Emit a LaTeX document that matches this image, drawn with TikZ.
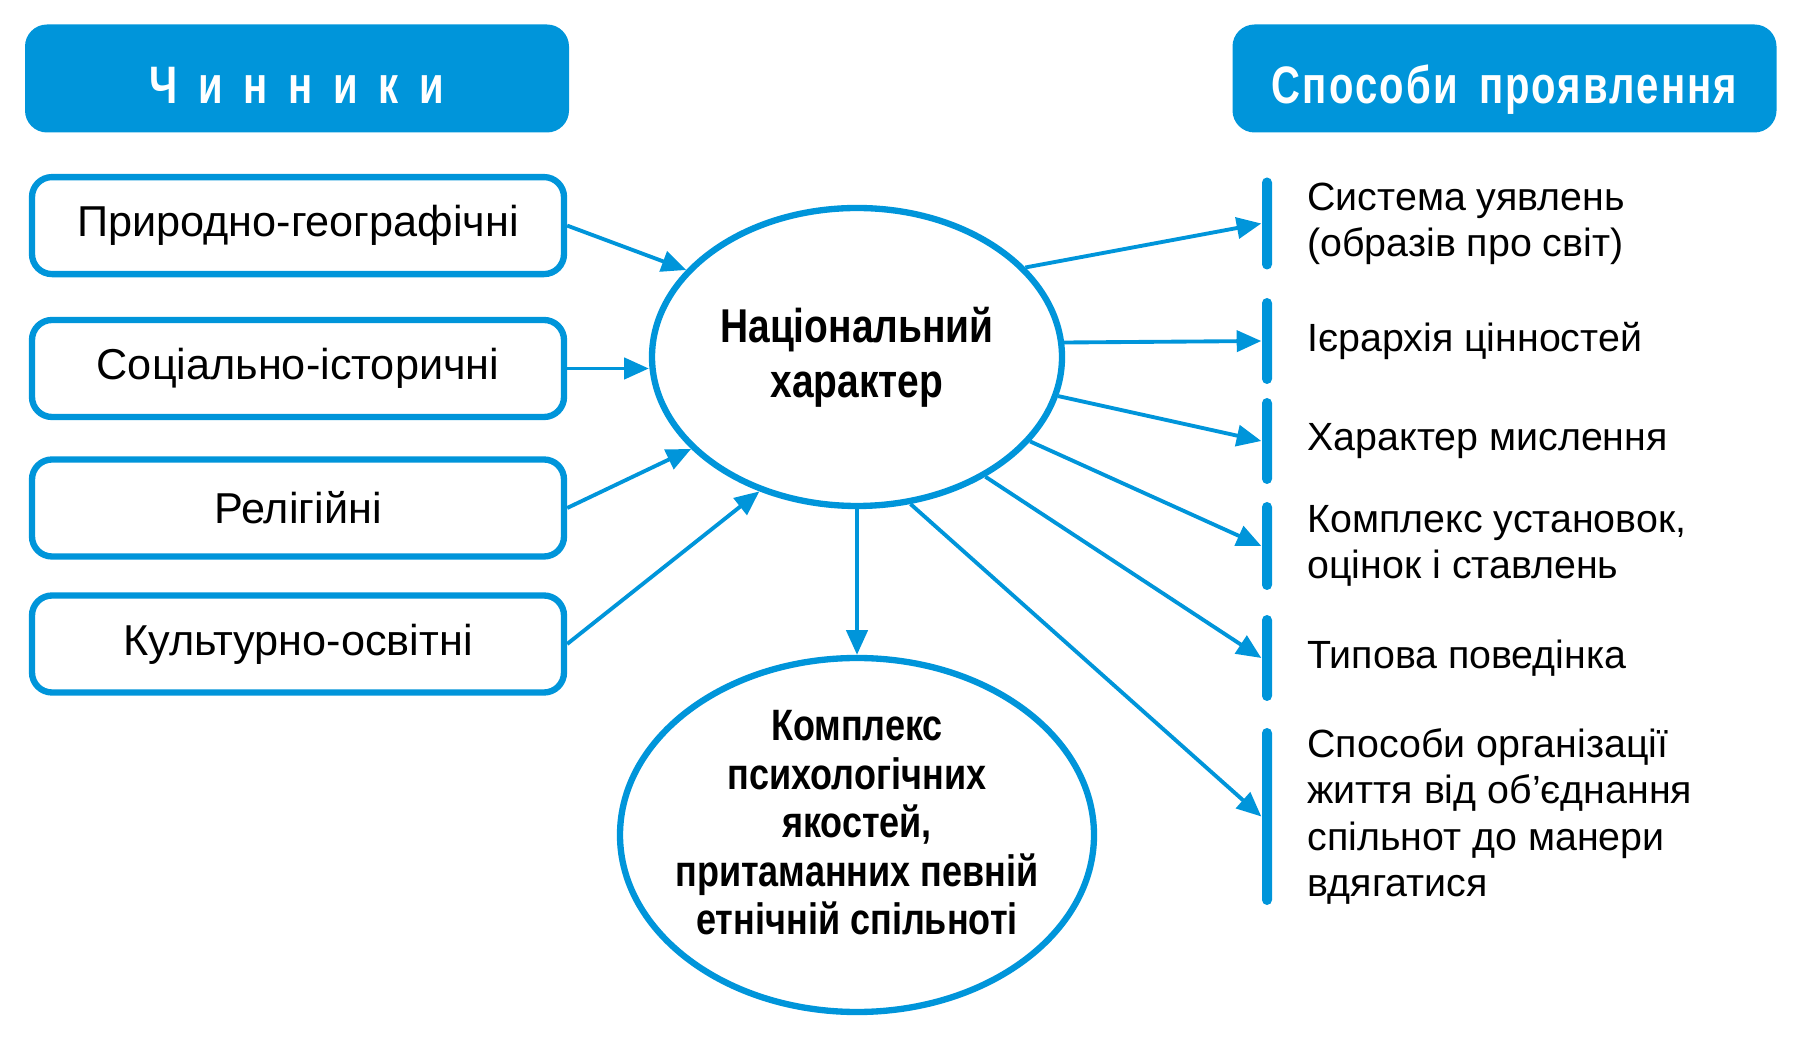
\documentclass[tikz,border=0pt]{standalone}
\usepackage{fontspec}
\setmainfont{Liberation Sans}
\newfontfamily\condfont{Liberation Sans}[FakeStretch=0.82]
\newfontfamily\headfont{Liberation Sans}[FakeStretch=0.76]
\usepackage{tikz}
\usetikzlibrary{arrows.meta,positioning,shapes.geometric}
\definecolor{chblue}{RGB}{0,149,218}

\begin{document}
\begin{tikzpicture}[
  header/.style={fill=chblue, rounded corners=0.22cm, minimum width=5.44cm, minimum height=1.08cm,
    text=white, text height=0.5cm, text depth=0pt, font=\headfont\bfseries\fontsize{15}{17}\selectfont},
  factor/.style={draw=chblue, line width=1.8pt, rounded corners=0.2cm, fill=white,
    minimum width=5.32cm, minimum height=0.97cm, font=\fontsize{12.3}{14}\selectfont},
  core/.style={ellipse, draw=chblue, line width=1.8pt, align=center, inner sep=0pt,
    font=\condfont\bfseries\fontsize{13.5}{15.6}\selectfont},
  sidebar/.style={fill=chblue, rounded corners=0.05cm, minimum width=0.1cm, inner sep=0pt},
  way/.style={right=0.34cm of #1, align=left, inner sep=0pt, font=\fontsize{11.2}{13.1}\selectfont},
  link/.style={draw=chblue, line width=1.1pt, -{Triangle[length=7pt,width=6pt]}}
]
\useasboundingbox (0,0) rectangle (17.96,-10.49);

\node[header] (hf) at (2.97,-0.785) {\addfontfeature{LetterSpace=18}Ч и н н и к и};
\node[header] (hw) at (15.045,-0.785) {\addfontfeature{LetterSpace=4}Способи\hspace{0.15em} проявлення};

\node[factor] (f1) at (2.98,-2.256) {Природно-географічні};
\node[factor] (f2) at (2.98,-3.685) {Соціально-історичні};
\node[factor] (f3) at (2.98,-5.08) {Релігійні};
\node[factor] (f4) at (2.98,-6.44) {Культурно-освітні};

\node[core, minimum width=4.10cm, minimum height=2.98cm] (nc) at (8.57,-3.57) {Національний\\характер};
\node[core, minimum width=4.74cm, minimum height=3.54cm, inner xsep=-0.3cm, text depth=0.25cm,
  font=\condfont\bfseries\fontsize{12.5}{13.8}\selectfont]
  (pq) at (8.57,-8.35) {Комплекс\\психологічних\\якостей,\\притаманних певній\\етнічній спільноті};

\node[sidebar, minimum height=0.92cm] (b1) at (12.67,-2.235) {};
\node[sidebar, minimum height=0.86cm] (b2) at (12.67,-3.41) {};
\node[sidebar, minimum height=0.86cm] (b3) at (12.67,-4.41) {};
\node[sidebar, minimum height=0.88cm] (b4) at (12.67,-5.46) {};
\node[sidebar, minimum height=0.86cm] (b5) at (12.67,-6.58) {};
\node[sidebar, minimum height=1.77cm] (b6) at (12.67,-8.165) {};

\node[way=b1] (w1) {Система уявлень\\(образів про світ)};
\node[way=b2] (w2) {Ієрархія цінностей};
\node[way=b3] (w3) {Характер мислення};
\node[way=b4] (w4) {Комплекс установок,\\оцінок і ставлень};
\node[way=b5] (w5) {Типова поведінка};
\node[way=b6] (w6) {Способи організації\\життя від об’єднання\\спільнот до манери\\вдягатися};

\draw[link] (f1.east) -- (nc.153);
\draw[link] (f2.east) -- (f2.east -| nc.west);
\draw[link] (f3.east) -- (nc.209);
\draw[link] (f4.east) -- (nc.234);
\draw[link] (nc.south) -- (pq.north);
\draw[link] (nc.28) -- (b1.west);
\draw[link] (nc.4) -- (b2.west);
\draw[link] (nc.-11) -- (b3.west);
\draw[link] (nc.-26) -- (b4.west);
\draw[link] (nc.-43) -- (b5.west);
\draw[link] (nc.-70) -- (b6.west);
\end{tikzpicture}
\end{document}
